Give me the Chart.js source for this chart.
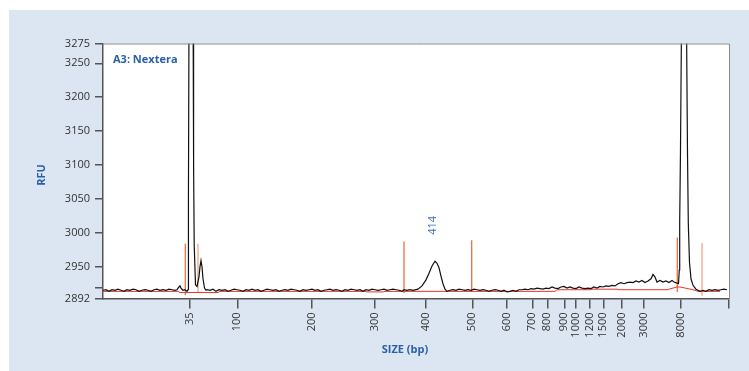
<!DOCTYPE html>
<html>
<head>
<meta charset="utf-8">
<script src="https://cdn.jsdelivr.net/npm/chart.js@4"></script>
<style>
  body { margin: 0; background: #fff; }
  #panel { position: absolute; left: 9px; top: 10px; width: 740px; height: 361px; background: #dce6f2; }
</style>
</head>
<body>
<div id="panel"><canvas id="chart"></canvas></div>
<script>
// x is migration (scan) position, y is RFU
const traceX = [0, 3, 6, 9, 12, 15, 18, 21, 24, 27, 30, 33, 36, 39, 42, 45, 48, 51, 54, 57, 60, 63, 66, 69, 72, 74,
  76, 77, 78, 80, 82, 84,
  85, 85.3, 85.6, 86.1, 88, 90, 90.6, 91.2, 92.5,
  94, 96, 97, 98, 99, 100, 101.5, 103,
  104, 107, 110, 113, 116, 119, 122, 125, 128, 131, 134, 137, 140, 143, 146, 149, 152, 155, 158, 161, 164, 167, 170,
  173, 176, 179, 182, 185, 188, 191, 194, 197, 200, 203, 206, 209, 212, 215, 218, 221, 224, 227, 230, 233, 236, 239,
  242, 245, 248, 251, 254, 257, 260, 263, 266, 269, 272, 275, 278, 281, 284, 287, 290, 293, 296, 299, 301, 304, 307, 310,
  315, 319, 323, 326, 329, 332, 334, 336, 338, 340, 342, 344,
  347, 350, 353, 356, 359, 362, 365, 368, 371, 374, 377, 380, 383, 386, 389, 392, 395, 398, 401, 404, 407, 410, 413, 416,
  419, 422, 425, 428, 431, 434, 437, 440, 443, 446, 449, 452, 455, 458, 461, 464, 467, 470, 473, 476, 479, 482, 485, 488,
  491, 494, 497, 500, 503, 506, 509, 512, 515, 518, 521, 524, 527, 530, 533, 536, 539, 542, 545, 548, 550, 552, 554, 557,
  560, 563, 566, 569, 571, 574,
  575.5, 576.3, 576.7, 577.5, 578.5, 580, 583.5, 584.5, 585.3, 586.5, 588, 590, 593, 597,
  600, 603, 606, 609, 612, 615, 618, 621, 624];
const traceY = [2907, 2908, 2905, 2908, 2907, 2909, 2907, 2905, 2908, 2907, 2909, 2908, 2905, 2907, 2908, 2907, 2905, 2908, 2909, 2907, 2908, 2907, 2909, 2908, 2907, 2908,
  2913, 2915, 2911, 2907, 2908, 2905,
  2908, 2910, 3050, 3350, 3500, 3350, 3100, 2982, 2917,
  2914, 2932, 2950, 2959, 2950, 2928, 2911, 2907,
  2908, 2907, 2909, 2905, 2908, 2907, 2908, 2905, 2907, 2909, 2908, 2907, 2905, 2908, 2907, 2909, 2907, 2908, 2905, 2907, 2909, 2908, 2907,
  2908, 2905, 2907, 2908, 2907, 2909, 2908, 2907, 2905, 2908, 2907, 2908, 2909, 2907, 2908, 2905, 2907, 2908, 2909, 2907, 2908, 2907, 2905,
  2908, 2907, 2909, 2908, 2907, 2908, 2905, 2908, 2907, 2909, 2908, 2907, 2908, 2909, 2907, 2908, 2909, 2908, 2907, 2905, 2908, 2907, 2908, 2907,
  2909, 2915, 2926, 2938, 2951, 2958, 2955, 2948, 2933, 2919, 2909, 2905,
  2907, 2908, 2907, 2909, 2908, 2907, 2908, 2907, 2909, 2908, 2907, 2908, 2907, 2905, 2907, 2908, 2907, 2905, 2907, 2904, 2905, 2907, 2905, 2908,
  2908, 2909, 2908, 2910, 2909, 2911, 2910, 2909, 2911, 2910, 2913, 2911, 2910, 2913, 2914, 2911, 2913, 2911, 2910, 2913, 2911, 2910, 2911, 2910,
  2913, 2911, 2914, 2913, 2915, 2914, 2916, 2915, 2919, 2921, 2919, 2921, 2922, 2921, 2924, 2922, 2925, 2921, 2924, 2928, 2936, 2931, 2922, 2925,
  2922, 2924, 2921, 2925, 2922, 2920,
  2919, 2944, 3017, 3122, 3300, 3450, 3300, 3117, 3014, 2956, 2928, 2916, 2909, 2905,
  2907, 2905, 2908, 2907, 2908, 2907, 2908, 2909, 2908];

// fitted baseline (red)
const baseX = [0, 75, 77, 115, 117, 262, 264, 280, 282, 452, 454, 487, 489, 514, 516, 564, 574, 577, 590, 595, 617];
const baseY = [2905, 2905, 2903, 2903, 2905, 2905, 2904, 2904, 2905, 2905, 2908, 2908, 2909, 2909, 2908, 2908, 2913, 2913, 2908, 2905, 2905];

// peak window markers (orange)
const markerX = [82.3, 95, 301, 368.7, 574.3, 599];
const markerLow = [2898, 2904, 2902, 2904, 2904, 2897];
const markerHigh = [2984, 2984, 2987, 2989, 2993, 2985];

const peakLabels = ["414"];
const peakLabelX = [332];
const peakLabelY = [2958];

const xTickPos = [87, 134.3, 208.7, 272, 323, 369.3, 403.7, 429.3, 444.3, 461.3, 473, 487, 500.3, 518.7, 541, 578, 626];
const xTickLabels = ["35", "100", "200", "300", "400", "500", "600", "700", "800", "900", "1000", "1200", "1500", "2000", "3000", "8000", ""];
const yTickValues = [2892, 2911, 2950, 3000, 3050, 3100, 3150, 3200, 3250, 3275];
const yTickLabels = ["2892", "", "2950", "3000", "3050", "3100", "3150", "3200", "3250", "3275"];

// the RFU axis of the instrument plot is stretched unevenly: three linear pieces
const yBreakValues = [2892, 2950, 3250, 3275];
const yBreakFrac = [0, 0.1247, 0.9224, 1];

class BrokenScale extends Chart.LinearScale {
  getPixelForValue(value) {
    if (value === null || value === undefined || isNaN(value)) return NaN;
    let i = 0;
    while (i < yBreakValues.length - 2 && value > yBreakValues[i + 1]) i++;
    const v0 = yBreakValues[i], v1 = yBreakValues[i + 1];
    const f = yBreakFrac[i] + ((value - v0) / (v1 - v0)) * (yBreakFrac[i + 1] - yBreakFrac[i]);
    return this.getPixelForDecimal(f);
  }
  getValueForPixel(pixel) {
    const f = this.getDecimalForPixel(pixel);
    let i = 0;
    while (i < yBreakFrac.length - 2 && f > yBreakFrac[i + 1]) i++;
    return yBreakValues[i] + ((f - yBreakFrac[i]) / (yBreakFrac[i + 1] - yBreakFrac[i])) * (yBreakValues[i + 1] - yBreakValues[i]);
  }
}
BrokenScale.id = "broken";
BrokenScale.defaults = Chart.LinearScale.defaults;
Chart.register(BrokenScale);

const BLUE = "#2b5fa6";

const markerPoints = [];
markerX.forEach((x, i) => {
  markerPoints.push({ x, y: markerLow[i] }, { x, y: markerHigh[i] }, { x, y: null });
});

const decor = {
  id: "decor",
  beforeDraw(chart) {
    const { ctx, chartArea: a } = chart;
    ctx.save();
    ctx.fillStyle = "#fff";
    ctx.fillRect(a.left, a.top, a.width, a.height);
    ctx.restore();
  },
  afterDraw(chart) {
    const { ctx, chartArea: a, scales } = chart;
    ctx.save();
    ctx.strokeStyle = "#8a8a8a";
    ctx.lineWidth = 1;
    ctx.beginPath();
    ctx.moveTo(a.left, a.top + 0.5);
    ctx.lineTo(a.right + 0.5, a.top + 0.5);
    ctx.lineTo(a.right + 0.5, a.bottom);
    ctx.stroke();

    ctx.fillStyle = BLUE;
    ctx.font = 'bold 11px "Open Sans"';
    ctx.textBaseline = "middle";
    ctx.textAlign = "left";
    ctx.fillText("A3: Nextera", a.left + 10, a.top + 16.5);

    ctx.textAlign = "center";
    ctx.fillText("SIZE (bp)", 396, a.bottom + 51.5);

    ctx.save();
    ctx.translate(33, (a.top + a.bottom) / 2 + 4);
    ctx.rotate(-Math.PI / 2);
    ctx.fillText("RFU", 0, 0);
    ctx.restore();

    ctx.font = '11px "Open Sans"';
    ctx.fillStyle = "#3d6bb3";
    peakLabels.forEach((t, i) => {
      const px = scales.x.getPixelForValue(peakLabelX[i]) - 2;
      const py = scales.y.getPixelForValue(peakLabelY[i]) - 36;
      ctx.save();
      ctx.translate(px, py);
      ctx.rotate(-Math.PI / 2);
      ctx.fillText(t, 0, 0);
      ctx.restore();
    });
    ctx.restore();
  }
};

Chart.defaults.font.family = '"Open Sans", sans-serif';

new Chart(document.getElementById("chart"), {
  type: "line",
  data: {
    datasets: [
      {
        data: traceX.map((x, i) => ({ x, y: traceY[i] })),
        borderColor: "#111",
        borderWidth: 1.2,
        pointRadius: 0,
        order: 1,
      },
      {
        data: baseX.map((x, i) => ({ x, y: baseY[i] })),
        borderColor: "#e8352a",
        borderWidth: 1,
        pointRadius: 0,
        order: 2,
      },
      {
        data: markerPoints,
        borderWidth: 1.3,
        pointRadius: 0,
        spanGaps: false,
        order: 3,
        segment: {
          borderColor: (c) => {
            const k = Math.floor(c.p0DataIndex / 3);
            return k === 1 || k === 5 ? "#f6a57e" : "#ef6e42";
          },
        },
      },
    ],
  },
  options: {
    responsive: true,
    maintainAspectRatio: false,
    animation: false,
    layout: { padding: { top: 33.5, right: 20, bottom: 0, left: 0 } },
    plugins: { legend: { display: false }, tooltip: { enabled: false } },
    scales: {
      x: {
        type: "linear",
        min: 0,
        max: 626,
        afterBuildTicks: (s) => { s.ticks = xTickPos.map((v) => ({ value: v })); },
        afterFit: (s) => { s.height = 72.5; },
        ticks: {
          autoSkip: false,
          maxRotation: 90,
          minRotation: 90,
          padding: 4,
          color: "#333",
          font: { size: 11 },
          callback: (v, i) => xTickLabels[i],
        },
        grid: { drawOnChartArea: false, color: "#555", lineWidth: 1.5, tickLength: 10 },
        border: { color: "#555", width: 1.5 },
      },
      y: {
        type: "broken",
        min: 2892,
        max: 3275,
        afterBuildTicks: (s) => { s.ticks = yTickValues.map((v) => ({ value: v })); },
        afterFit: (s) => { s.width = 94; },
        ticks: {
          autoSkip: false,
          padding: 5,
          color: "#333",
          font: { size: 11 },
          callback: (v, i) => yTickLabels[i],
        },
        grid: { drawOnChartArea: false, color: "#555", lineWidth: 1.5, tickLength: 8 },
        border: { color: "#555", width: 1.5 },
      },
    },
  },
  plugins: [decor],
});
</script>
</body>
</html>
